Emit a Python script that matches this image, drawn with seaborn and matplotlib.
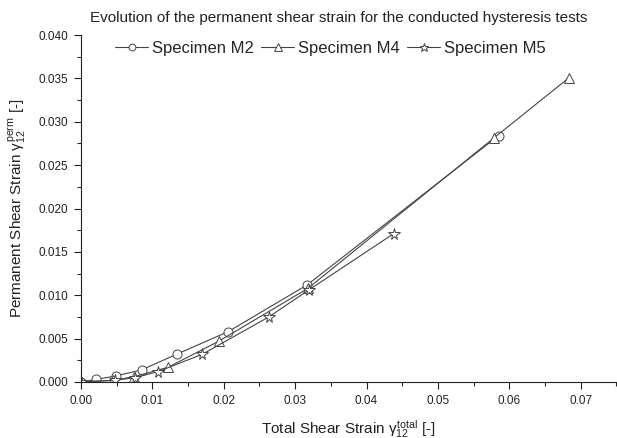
import matplotlib
matplotlib.use("Agg")
import matplotlib.pyplot as plt
import seaborn as sns
import pandas as pd
from matplotlib.ticker import MultipleLocator

sns.set_theme(style="ticks")
plt.rcParams['font.family'] = ['Liberation Sans', 'DejaVu Sans']
plt.rcParams['mathtext.fontset'] = 'custom'
plt.rcParams['mathtext.rm'] = 'Liberation Sans'
plt.rcParams['mathtext.it'] = 'Liberation Sans'

m2_x = [0.0, 0.0021, 0.0049, 0.0085, 0.0134, 0.0206, 0.0317, 0.0585]
m2_y = [0.0, 0.0003, 0.0007, 0.0014, 0.0032, 0.0058, 0.0112, 0.0284]
m4_x = [0.0, 0.0045, 0.0074, 0.0122, 0.0193, 0.0318, 0.0578, 0.0684]
m4_y = [0.0, 0.0002, 0.0006, 0.0017, 0.0047, 0.0108, 0.0281, 0.0351]
m5_x = [0.0, 0.0048, 0.0076, 0.0108, 0.0170, 0.0263, 0.0319, 0.0438]
m5_y = [0.0, 0.0002, 0.0005, 0.0012, 0.0032, 0.0075, 0.0106, 0.0171]

series = [("Specimen M2", m2_x, m2_y, "o", 6.5),
          ("Specimen M4", m4_x, m4_y, "^", 7),
          ("Specimen M5", m5_x, m5_y, "*", 8.5)]

fig = plt.figure(figsize=(6.17, 4.38), dpi=100)
ax = fig.add_axes([81/617, 1-382/438, 1-81/617-0.001, (382-35)/438])

for name, xs, ys, mk, ms in series:
    df = pd.DataFrame({"x": xs, "y": ys})
    sns.lineplot(data=df, x="x", y="y", ax=ax, sort=False, color="#444444",
                 linewidth=0.8, marker=mk, markersize=ms, markerfacecolor="white",
                 markeredgecolor="#444444", markeredgewidth=0.7, label=name)

ax.set_xlim(0, 0.075)
ax.set_ylim(0, 0.040)
ax.xaxis.set_major_locator(MultipleLocator(0.01))
ax.xaxis.set_minor_locator(MultipleLocator(0.005))
ax.yaxis.set_major_locator(MultipleLocator(0.005))
ax.yaxis.set_minor_locator(MultipleLocator(0.0025))
ax.xaxis.set_major_formatter(matplotlib.ticker.FormatStrFormatter('%.2f'))
ax.yaxis.set_major_formatter(matplotlib.ticker.FormatStrFormatter('%.3f'))
ax.tick_params(which='major', direction='out', length=5, width=0.8, labelsize=8.5, colors='#222222', pad=4)
ax.tick_params(which='minor', direction='out', length=3, width=0.8)
for s in ['top', 'right']:
    ax.spines[s].set_visible(False)
for s in ['left', 'bottom']:
    ax.spines[s].set_color('#222222')
    ax.spines[s].set_linewidth(0.8)

ax.set_xlabel(r"Total Shear Strain $\gamma_{12}^{total}$ [-]", fontsize=11, color='#222222', labelpad=8)
ax.set_ylabel(r"Permanent Shear Strain $\gamma_{12}^{perm}$ [-]", fontsize=11, color='#222222', labelpad=8)
fig.text(339/617, 1-18/438, "Evolution of the permanent shear strain for the conducted hysteresis tests",
         ha='center', va='center', fontsize=11, color='#222222')
leg = ax.legend(loc='center', bbox_to_anchor=(0.466, 1-13/347), ncol=3, frameon=False,
                fontsize=12, handlelength=2.0, columnspacing=0.4, handletextpad=0.25, markerscale=0.75)

fig.savefig("out.png", dpi=100)
